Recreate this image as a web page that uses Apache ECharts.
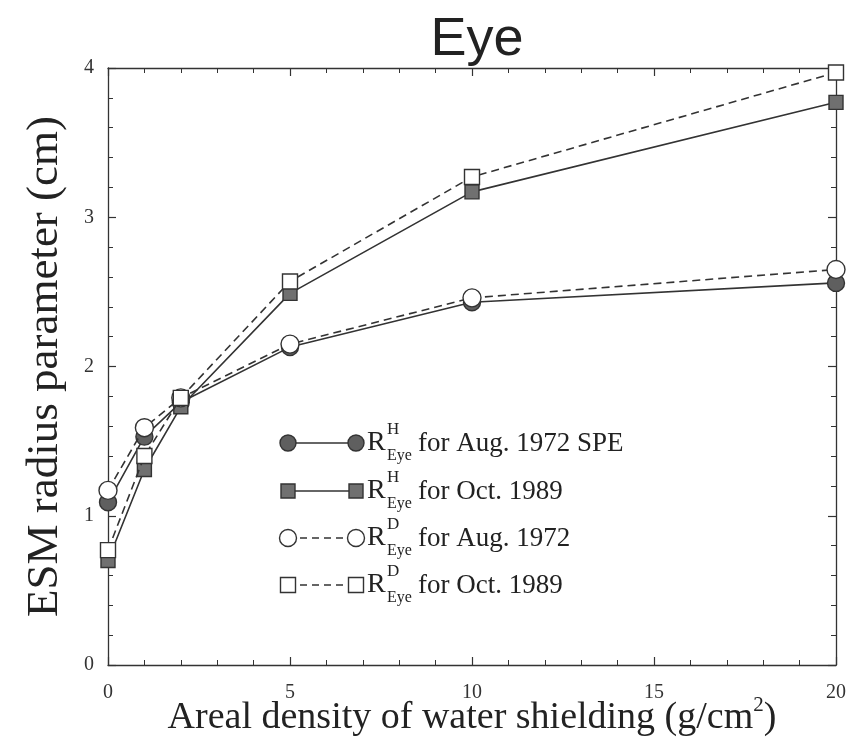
<!DOCTYPE html>
<html>
<head>
<meta charset="utf-8">
<script src="https://cdn.jsdelivr.net/npm/echarts@6/dist/echarts.min.js"></script>
<style>
html,body{margin:0;padding:0;background:#fff;}
#c{width:851px;height:739px;}
</style>
</head>
<body>
<div id="c"></div>
<script>
const xValues = [0, 1, 2, 5, 10, 20];
const rhAug1972 = [1.09, 1.53, 1.76, 2.13, 2.43, 2.56];
const rhOct1989 = [0.70, 1.31, 1.73, 2.49, 3.17, 3.77];
const rdAug1972 = [1.17, 1.59, 1.79, 2.15, 2.46, 2.65];
const rdOct1989 = [0.77, 1.40, 1.79, 2.57, 3.27, 3.97];
const legendSup = ['H', 'H', 'D', 'D'];
const legendText = ['for Aug. 1972 SPE', 'for Oct. 1989', 'for Aug. 1972', 'for Oct. 1989'];

const ink = '#333';
const serif = '"Liberation Serif", "DejaVu Serif", serif';

function pairs(ys){ return xValues.map((x,i)=>[x, ys[i]]); }

const seriesDefs = [
  {data: rhAug1972, symbol: 'circle', size: 17, fill: '#5f5f5f', dash: 'solid'},
  {data: rhOct1989, symbol: 'rect', size: 14, fill: '#707070', dash: 'solid'},
  {data: rdAug1972, symbol: 'circle', size: 18, fill: '#fff', dash: [8, 5]},
  {data: rdOct1989, symbol: 'rect', size: 15, fill: '#fff', dash: [8, 5]}
];

const series = seriesDefs.map(d => ({
  type: 'line',
  data: pairs(d.data),
  symbol: d.symbol,
  symbolSize: d.size,
  lineStyle: {color: ink, width: 1.6, type: d.dash},
  itemStyle: {color: d.fill, borderColor: ink, borderWidth: 1.4},
  z: d.fill === '#fff' ? 3 : 2,
  animation: false
}));

// Legend drawn as graphics
const rowY = [443, 491, 538, 585];
const lx0 = 288, lx1 = 356;
const graphics = [];
seriesDefs.forEach((d, i) => {
  const y = rowY[i];
  graphics.push({type: 'line', shape: {x1: lx0, y1: y, x2: lx1, y2: y},
    style: {stroke: ink, lineWidth: 1.6, lineDash: d.dash === 'solid' ? null : [7, 5]}, z: 10});
  [lx0, lx1].forEach(cx => {
    if (d.symbol === 'circle') {
      graphics.push({type: 'circle', shape: {cx: cx, cy: y, r: d.size/2 - 0.5},
        style: {fill: d.fill, stroke: ink, lineWidth: 1.4}, z: 11});
    } else {
      const s = d.size;
      graphics.push({type: 'rect', shape: {x: cx - s/2, y: y - s/2, width: s, height: s},
        style: {fill: d.fill, stroke: ink, lineWidth: 1.4}, z: 11});
    }
  });
  graphics.push({type: 'text', x: 367, y: y, style: {text: 'R', font: '28px ' + serif, fill: '#222', verticalAlign: 'middle'}, z: 12});
  graphics.push({type: 'text', x: 387, y: y - 13, style: {text: legendSup[i], font: '17px ' + serif, fill: '#222', verticalAlign: 'middle'}, z: 12});
  graphics.push({type: 'text', x: 387, y: y + 13, style: {text: 'Eye', font: '16px ' + serif, fill: '#222', verticalAlign: 'middle'}, z: 12});
  graphics.push({type: 'text', x: 418, y: y + 1, style: {text: legendText[i], font: '27px ' + serif, fill: '#222', verticalAlign: 'middle'}, z: 12});
});

const axisCommon = {
  axisLine: {show: true, onZero: false, lineStyle: {color: ink, width: 1.3}},
  axisTick: {show: true, inside: true, length: 8, lineStyle: {color: ink, width: 1.2}},
  minorTick: {show: true, splitNumber: 5, length: 5, lineStyle: {color: ink, width: 1}},
  splitLine: {show: false},
  minorSplitLine: {show: false}
};

const option = {
  backgroundColor: '#fff',
  animation: false,
  title: {
    text: 'Eye', left: 472, top: 8, textAlign: 'center',
    textStyle: {fontFamily: '"Liberation Sans", Arial, sans-serif', fontSize: 54, fontWeight: 'normal', color: '#222'}
  },
  grid: {left: 108, right: 15, top: 68, bottom: 74, outerBoundsMode: 'none', containLabel: false},
  xAxis: [
    Object.assign({
      type: 'value', min: 0, max: 20, interval: 5, position: 'bottom',
      axisLabel: {fontFamily: serif, fontSize: 20, color: '#333', margin: 18},
      name: '{a|Areal density of water shielding (g/cm}{s|2}{a|)}',
      nameLocation: 'middle', nameGap: 30, nameMoveOverlap: false,
      nameTextStyle: {rich: {
        a: {fontFamily: serif, fontSize: 38, color: '#222'},
        s: {fontFamily: serif, fontSize: 21, color: '#222', padding: [0, 0, 26, 0]}
      }}
    }, axisCommon),
    Object.assign({
      type: 'value', min: 0, max: 20, interval: 5, position: 'top',
      axisLabel: {show: false}
    }, axisCommon)
  ],
  yAxis: [
    Object.assign({
      type: 'value', min: 0, max: 4, interval: 1, position: 'left',
      axisLabel: {fontFamily: serif, fontSize: 20, color: '#333', margin: 14},
      name: 'ESM radius parameter (cm)', nameLocation: 'middle', nameGap: 40, nameMoveOverlap: false,
      nameTextStyle: {fontFamily: serif, fontSize: 45, color: '#222'}
    }, axisCommon),
    Object.assign({
      type: 'value', min: 0, max: 4, interval: 1, position: 'right',
      axisLabel: {show: false}
    }, axisCommon)
  ],
  series: series,
  graphic: graphics
};

const chart = echarts.init(document.getElementById('c'), null, {renderer: 'canvas'});
chart.setOption(option);
</script>
</body>
</html>
